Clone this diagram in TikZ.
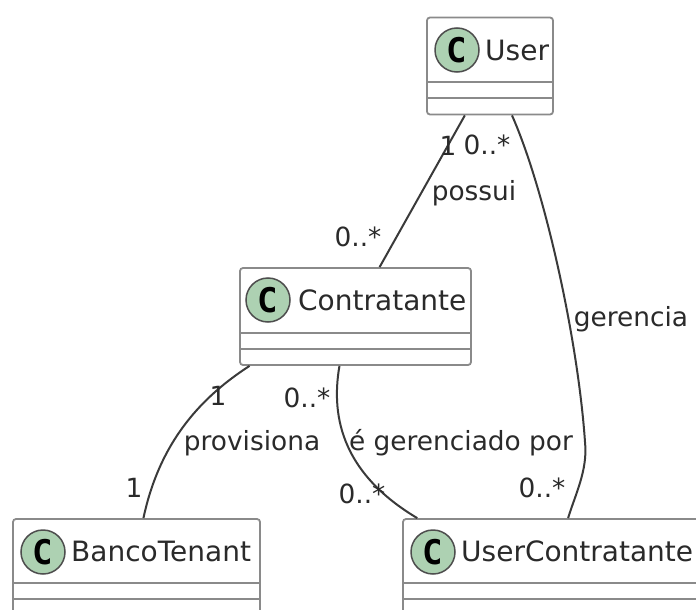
\documentclass[tikz,border=0pt]{standalone}
\usepackage{fontspec}
\setmainfont{DejaVu Sans}
\newfontfamily\spotfont{DejaVu Sans Mono}
\definecolor{spotgreen}{HTML}{ADD1B2}
\definecolor{boxgray}{HTML}{8A8A8A}
\definecolor{linegray}{HTML}{3A3A3A}
\definecolor{textgray}{HTML}{2A2A2A}
\tikzset{
  classbox/.style={draw=boxgray, line width=1.8pt, fill=white, rounded corners=3pt, minimum height=97pt, inner sep=0pt},
  classline/.style={draw=boxgray, line width=1.8pt},
  spot/.style={circle, draw=linegray!90, line width=1.5pt, fill=spotgreen, minimum size=44pt, inner sep=0pt, font=\fontsize{34}{36}\spotfont\bfseries, text=black},
  classname/.style={anchor=base west, inner sep=0pt, text=textgray, font=\fontsize{28}{30}\selectfont},
  assoc/.style={draw=linegray, line width=2pt},
  lbl/.style={anchor=base, inner sep=0pt, text=textgray, font=\fontsize{26.4}{28}\selectfont}
}
\begin{document}
\begin{tikzpicture}[x=1pt,y=-1pt]
    \useasboundingbox (0,0) rectangle (696,610);
    \clip (0,0) rectangle (696,610);

      \node(user) at (490,66) [classbox, minimum width=126pt] {};
      \node(contratante) at (355.5,316.5) [classbox, minimum width=231pt] {};
      \node(banco) at (136.5,567.5) [classbox, minimum width=247pt] {};
      \node(uc) at (553,567.5) [classbox, minimum width=300pt] {};

      \node(userspot) at (457,50) [spot] {C};
      \node(contratantespot) at (268,300) [spot] {C};
      \node(bancospot) at (43,552) [spot] {C};
      \node(ucspot) at (433,552) [spot] {C};

      \node(username) at (485,60) [classname] {User};
      \node(contratantename) at (298,310) [classname] {Contratante};
      \node(banconame) at (71,561) [classname] {BancoTenant};
      \node(ucname) at (461,561) [classname] {UserContratante};

      \draw[classline] (user.west |- 0,82) -- (user.east |- 0,82);
      \draw[classline] (user.west |- 0,98) -- (user.east |- 0,98);
      \draw[classline] (contratante.west |- 0,333) -- (contratante.east |- 0,333);
      \draw[classline] (contratante.west |- 0,349) -- (contratante.east |- 0,349);
      \draw[classline] (banco.west |- 0,583) -- (banco.east |- 0,583);
      \draw[classline] (banco.west |- 0,599) -- (banco.east |- 0,599);
      \draw[classline] (uc.west |- 0,583) -- (uc.east |- 0,583);
      \draw[classline] (uc.west |- 0,599) -- (uc.east |- 0,599);

      \coordinate(bend) at (585,442);

      \draw[assoc] (user.243.4) -- (contratante.64.1);
      \draw[assoc] (user.-66.4) .. controls (545,190) and (578,340) .. (bend) .. controls (588,470) and (575,495) .. (uc.73.9);
      \draw[assoc] (contratante.205.5) .. controls (203,396) and (160,440) .. (banco.82.3);
      \draw[assoc] (contratante.-108.8) .. controls (330,420) and (345,475) .. (uc.160.8);

      \node(possui) at (474,200) [lbl] {possui};
      \node(gerencia) at (631,326) [lbl] {gerencia};
      \node(provisiona) at (252,450) [lbl] {provisiona};
      \node(gerenciado) at (461,450) [lbl] {é gerenciado por};

      \node(m1) at (448,155) [lbl] {1};
      \node(m2) at (487,154) [lbl] {0..*};
      \node(m3) at (358,246) [lbl] {0..*};
      \node(m4) at (218,405) [lbl] {1};
      \node(m5) at (307,407) [lbl] {0..*};
      \node(m6) at (134,497) [lbl] {1};
      \node(m7) at (362,503) [lbl] {0..*};
      \node(m8) at (542,497) [lbl] {0..*};
\end{tikzpicture}
\end{document}
